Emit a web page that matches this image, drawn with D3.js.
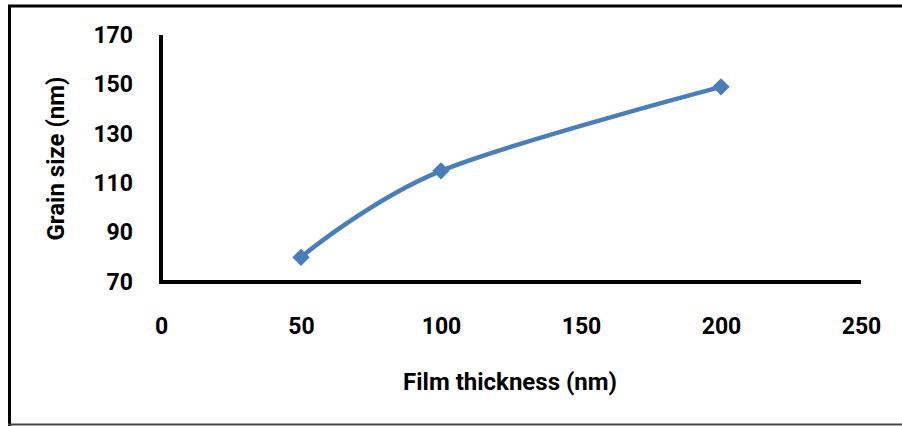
<!DOCTYPE html>
<html>
<head>
<meta charset="utf-8">
<script src="https://cdn.jsdelivr.net/npm/d3@7"></script>
<style>
  html, body { margin: 0; padding: 0; background: #fff; }
  svg { display: block; }
  text { font-family: Roboto, "Liberation Sans", sans-serif; font-weight: bold; fill: #000; }
</style>
</head>
<body>
<svg id="chart" width="902" height="426"></svg>
<script>
const thickness = [50, 100, 200];
const grainSize = [80, 115, 149];
const xTicks = [0, 50, 100, 150, 200, 250];
const yTicks = [70, 90, 110, 130, 150, 170];
const xTitle = "Film thickness (nm)";
const yTitle = "Grain size (nm)";

const svg = d3.select("#chart");
const x = d3.scaleLinear().domain([0, 250]).range([161, 861]);
const y = d3.scaleLinear().domain([70, 170]).range([282, 35]);
const blue = "#4a7ebb";

// outer frame (top, left, bottom)
svg.append("line").attr("x1", 8).attr("x2", 902).attr("y1", 6).attr("y2", 6)
  .attr("stroke", "#000").attr("stroke-width", 3);
svg.append("line").attr("x1", 9.5).attr("x2", 9.5).attr("y1", 5).attr("y2", 426)
  .attr("stroke", "#000").attr("stroke-width", 3);
svg.append("line").attr("x1", 8).attr("x2", 902).attr("y1", 424.5).attr("y2", 424.5)
  .attr("stroke", "#444").attr("stroke-width", 2);

// axes
const yAxis = d3.axisLeft(y).tickValues(yTicks).tickSize(0).tickPadding(28);
const xAxis = d3.axisBottom(x).tickValues(xTicks).tickSize(0).tickPadding(36);

const gy = svg.append("g").attr("transform", `translate(${x(0)},0)`).call(yAxis);
const gx = svg.append("g").attr("transform", `translate(0,${y(70)})`).call(xAxis);
[gx, gy].forEach(g => {
  g.select(".domain").remove();
  g.selectAll("text").style("font-size", "23px").style("font-family", "Roboto, sans-serif")
    .style("font-weight", "bold").attr("fill", "#000");
});

svg.append("line").attr("x1", x(0)).attr("x2", x(0)).attr("y1", y(170)).attr("y2", y(70) + 2)
  .attr("stroke", "#000").attr("stroke-width", 4);
svg.append("line").attr("x1", x(0) - 2).attr("x2", x(250)).attr("y1", y(70)).attr("y2", y(70))
  .attr("stroke", "#000").attr("stroke-width", 4);

// titles
svg.append("text").attr("x", 510).attr("y", 390).attr("text-anchor", "middle")
  .style("font-size", "24px").text(xTitle);
svg.append("text").attr("transform", `translate(64,${(y(70) + y(170)) / 2}) rotate(-90)`)
  .attr("text-anchor", "middle").style("font-size", "24px").text(yTitle);

// series
const pts = thickness.map((t, i) => [t, grainSize[i]]);
const line = d3.line().x(d => x(d[0])).y(d => y(d[1])).curve(d3.curveCatmullRom.alpha(0));
svg.append("path").datum(pts).attr("d", line).attr("fill", "none")
  .attr("stroke", blue).attr("stroke-width", 4.5).attr("stroke-linejoin", "round");

const diamond = d3.symbol().type(d3.symbolSquare).size(150);
svg.selectAll(".marker").data(pts).join("path").attr("class", "marker")
  .attr("d", diamond)
  .attr("transform", d => `translate(${x(d[0])},${y(d[1])}) rotate(45)`)
  .attr("fill", blue);
</script>
</body>
</html>
